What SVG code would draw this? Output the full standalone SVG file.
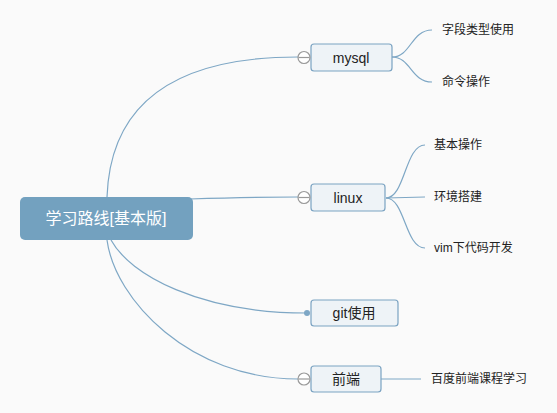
<svg xmlns="http://www.w3.org/2000/svg" width="557" height="413" viewBox="0 0 557 413">
<style>
.bg{fill:#fafafa}
.c{fill:none;stroke:#7ea7c5;stroke-width:1.2}
.n rect{fill:#eef3f7;stroke:#7ba3c2;stroke-width:1.2}
.n text{font-family:"Liberation Sans","Noto Sans CJK SC",sans-serif;font-size:14px;fill:#222;text-anchor:middle;dominant-baseline:central}
.t{font-family:"Liberation Sans","Noto Sans CJK SC",sans-serif;font-size:12px;fill:#222;dominant-baseline:central}
.tog circle{fill:#fff;stroke:#999;stroke-width:1.2}
.tog line{stroke:#999;stroke-width:1.2}
</style>
<rect class="bg" x="0" y="0" width="557" height="413"/>
<g id="connectors">
<path class="c" d="M107,197 Q112,57 298,57"/>
<path class="c" d="M190,199 Q250,197 298,197"/>
<path class="c" d="M111,240 C130,275 200,313 307,313"/>
<path class="c" d="M107,240 C115,300 190,379 298,379"/>
<path class="c" d="M392,57 C411,57 411,30 432,30"/>
<path class="c" d="M392,57 C411,57 411,82 432,82"/>
<path class="c" d="M386,198 C405,198 405,145 425,145"/>
<path class="c" d="M386,198 L425,197"/>
<path class="c" d="M386,198 C405,198 405,248 425,248"/>
<path class="c" d="M381,379 L421,379"/>
</g>
<g id="root">
<rect x="20" y="197" width="173" height="43" rx="5" fill="#73a1bf"/>
<text x="106" y="218" font-family="'Liberation Sans','Noto Sans CJK SC',sans-serif" font-size="16" fill="#fff" text-anchor="middle" dominant-baseline="central">学习路线[基本版]</text>
</g>
<g id="mysql" class="n">
<rect x="311" y="44" width="81" height="27" rx="3"/>
<text x="351" y="57.5">mysql</text>
<g class="tog"><circle cx="304" cy="57.5" r="6"/><line x1="298.5" y1="57.5" x2="309.5" y2="57.5"/></g>
</g>
<g id="mysql-c1"><text class="t" x="442" y="30">字段类型使用</text></g>
<g id="mysql-c2"><text class="t" x="442" y="82">命令操作</text></g>
<g id="linux" class="n">
<rect x="311" y="184" width="74" height="27" rx="3"/>
<text x="348" y="197.5">linux</text>
<g class="tog"><circle cx="304" cy="197.5" r="6"/><line x1="298.5" y1="197.5" x2="309.5" y2="197.5"/></g>
</g>
<g id="linux-c1"><text class="t" x="434" y="145">基本操作</text></g>
<g id="linux-c2"><text class="t" x="434" y="197">环境搭建</text></g>
<g id="linux-c3"><text class="t" x="434" y="248">vim下代码开发</text></g>
<g id="git" class="n">
<rect x="311" y="300" width="87" height="26" rx="3"/>
<text x="354" y="313">git使用</text>
<circle cx="307" cy="313" r="3" fill="#7ea7c5"/>
</g>
<g id="frontend" class="n">
<rect x="311" y="366" width="70" height="26" rx="3"/>
<text x="346" y="379">前端</text>
<g class="tog"><circle cx="304" cy="379" r="6"/><line x1="298.5" y1="379" x2="309.5" y2="379"/></g>
</g>
<g id="frontend-c1"><text class="t" x="431" y="379">百度前端课程学习</text></g>
</svg>
